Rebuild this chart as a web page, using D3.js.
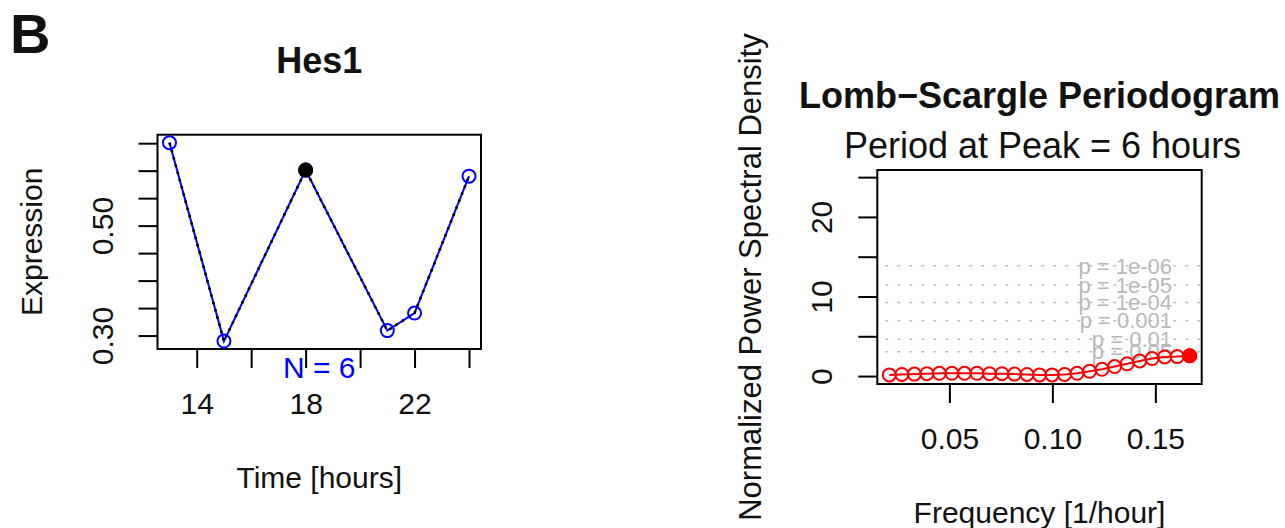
<!DOCTYPE html>
<html>
<head>
<meta charset="utf-8">
<script src="https://cdn.jsdelivr.net/npm/d3@7"></script>
<style>
  body { margin: 0; background: #fff; }
  svg text { font-family: "Liberation Sans", Arial, Helvetica, sans-serif; }
</style>
</head>
<body>
<svg id="chart" width="1285" height="528"></svg>
<script>
// left panel - Hes1 time course
const timeHours = [13, 15, 18, 21, 22, 24];
const expression = [0.651, 0.290, 0.601, 0.309, 0.341, 0.590];
const peakTime = 18;
const timeTicks = [14, 16, 18, 20, 22, 24];
const timeTickLabels = ['14', '', '18', '', '22', ''];
const exprTicks = [0.30, 0.35, 0.40, 0.45, 0.50, 0.55, 0.60, 0.65];
const exprTickLabels = ['0.30', '', '', '', '0.50', '', '', ''];

// right panel - Lomb-Scargle periodogram
const frequency = [0.02083, 0.02691, 0.03299, 0.03906, 0.04514, 0.05122, 0.05729, 0.06337,
  0.06944, 0.07552, 0.08160, 0.08767, 0.09375, 0.09983, 0.10590, 0.11198, 0.11806,
  0.12413, 0.13021, 0.13628, 0.14236, 0.14844, 0.15451, 0.16059, 0.16667];
const power = [0.15, 0.2, 0.25, 0.3, 0.35, 0.35, 0.35, 0.35, 0.3, 0.3, 0.25, 0.2, 0.15,
  0.15, 0.2, 0.35, 0.6, 0.85, 1.2, 1.55, 1.9, 2.2, 2.4, 2.45, 2.56];
const powerMax = 24.9;
const freqTicks = [0.05, 0.10, 0.15];
const freqTickLabels = ['0.05', '0.10', '0.15'];
const powerTicks = [0, 5, 10, 15, 20, 25];
const powerTickLabels = ['0', '', '10', '', '20', ''];
const sigLevels = [13.85, 11.46, 9.23, 6.96, 4.62, 3.06];
const sigLabels = ['p = 1e-06', 'p = 1e-05', 'p = 1e-04', 'p = 0.001', 'p = 0.01', 'p = 0.05'];

// R style axis padding (4% each side)
const pad = ([a, b]) => [a - 0.04 * (b - a), b + 0.04 * (b - a)];

const svg = d3.select('#chart');

function drawFrame(x, y, o) {
  const [x0, x1] = x.range();
  const [y0, y1] = y.range();   // y0 bottom, y1 top

  svg.append('rect')
    .attr('x', x0).attr('y', y1)
    .attr('width', x1 - x0).attr('height', y0 - y1)
    .attr('fill', 'none').attr('stroke', '#000').attr('stroke-width', 2);

  const xAxis = d3.axisBottom(x)
    .tickValues(o.xTicks)
    .tickFormat((d, i) => o.xLabels[i])
    .tickSize(19).tickSizeOuter(0).tickPadding(25);
  const xg = svg.append('g')
    .attr('transform', `translate(0,${y0})`)
    .call(xAxis);
  xg.select('.domain').remove();
  xg.selectAll('line').attr('stroke-width', 2);
  xg.selectAll('text').attr('font-size', 30).attr('fill', '#111');

  const yAxis = d3.axisLeft(y)
    .tickValues(o.yTicks)
    .tickFormat((d, i) => o.yLabels[i])
    .tickSize(19).tickSizeOuter(0);
  const yg = svg.append('g')
    .attr('transform', `translate(${x0},0)`)
    .call(yAxis);
  yg.select('.domain').remove();
  yg.selectAll('line').attr('stroke-width', 2);
  yg.selectAll('text')
    .attr('font-size', 30).attr('fill', '#111')
    .attr('transform', 'rotate(-90)')
    .attr('x', 0).attr('y', -45).attr('dy', 0)
    .attr('text-anchor', 'middle');

  // axis titles
  svg.append('text')
    .attr('x', (x0 + x1) / 2).attr('y', y0 + 139)
    .attr('text-anchor', 'middle').attr('font-size', 30).attr('fill', '#111')
    .text(o.xTitle);
  svg.append('text')
    .attr('transform', `translate(${x0 - 116},${(y0 + y1) / 2}) rotate(-90)`)
    .attr('text-anchor', 'middle').attr('font-size', o.yTitleSize || 30).attr('fill', '#111')
    .text(o.yTitle);

  svg.append('text')
    .attr('x', (x0 + x1) / 2).attr('y', y1 - 62)
    .attr('text-anchor', 'middle').attr('font-size', 36)
    .attr('font-weight', 'bold').attr('fill', '#111')
    .text(o.title);
}

// panel label
svg.append('text')
  .attr('x', 10).attr('y', 53)
  .attr('font-size', 56).attr('font-weight', 'bold').attr('fill', '#111')
  .text('B');

// ---- left panel ----
const xTime = d3.scaleLinear().domain(pad(d3.extent(timeHours))).range([157.5, 481]);
const yExpr = d3.scaleLinear().domain(pad(d3.extent(expression))).range([349, 134.7]);

drawFrame(xTime, yExpr, {
  xTicks: timeTicks, xLabels: timeTickLabels,
  yTicks: exprTicks, yLabels: exprTickLabels,
  xTitle: 'Time [hours]', yTitle: 'Expression', title: 'Hes1'
});

const exprData = timeHours.map((t, i) => ({ t: t, v: expression[i] }));
const exprLine = d3.line().x(d => xTime(d.t)).y(d => yExpr(d.v));

svg.append('path')
  .datum(exprData)
  .attr('d', exprLine)
  .attr('fill', 'none').attr('stroke', '#0000ff').attr('stroke-width', 2);
svg.append('path')
  .datum(exprData)
  .attr('d', exprLine)
  .attr('fill', 'none').attr('stroke', '#000').attr('stroke-width', 2.6)
  .attr('stroke-dasharray', '2.5,5');

svg.selectAll('.exprPt')
  .data(exprData)
  .join('circle')
  .attr('class', 'exprPt')
  .attr('cx', d => xTime(d.t)).attr('cy', d => yExpr(d.v))
  .attr('r', 6.5)
  .attr('fill', 'none').attr('stroke', '#0000ff').attr('stroke-width', 2);

svg.selectAll('.peakPt')
  .data(exprData.filter(d => d.t === peakTime))
  .join('circle')
  .attr('class', 'peakPt')
  .attr('cx', d => xTime(d.t)).attr('cy', d => yExpr(d.v))
  .attr('r', 7.5).attr('fill', '#000');

svg.append('text')
  .attr('x', d3.mean(xTime.range())).attr('y', 378)
  .attr('text-anchor', 'middle').attr('font-size', 30).attr('fill', '#0000ff')
  .text('N = ' + timeHours.length);

// ---- right panel ----
const xFreq = d3.scaleLinear().domain(pad(d3.extent(frequency))).range([877.3, 1201.7]);
const yPow = d3.scaleLinear().domain(pad([0, powerMax])).range([384, 170]);

drawFrame(xFreq, yPow, {
  xTicks: freqTicks, xLabels: freqTickLabels,
  yTicks: powerTicks, yLabels: powerTickLabels,
  xTitle: 'Frequency [1/hour]', yTitle: 'Normalized Power Spectral Density',
  yTitleSize: 31, title: 'Lomb\u2212Scargle Periodogram'
});

svg.append('text')
  .attr('x', d3.mean(xFreq.range()) + 3).attr('y', 158)
  .attr('text-anchor', 'middle').attr('font-size', 36).attr('fill', '#111')
  .text('Period at Peak = 6 hours');

// significance levels
svg.selectAll('.sigLine')
  .data(sigLevels)
  .join('line')
  .attr('class', 'sigLine')
  .attr('x1', xFreq.range()[0] + 8).attr('x2', xFreq.range()[1])
  .attr('y1', d => yPow(d)).attr('y2', d => yPow(d))
  .attr('stroke', '#bdbdbd').attr('stroke-width', 1.5)
  .attr('stroke-dasharray', '3,9');

svg.selectAll('.sigLabel')
  .data(sigLevels)
  .join('text')
  .attr('class', 'sigLabel')
  .attr('x', 1172).attr('y', d => yPow(d))
  .attr('dy', '0.35em')
  .attr('text-anchor', 'end').attr('font-size', 22).attr('fill', '#b8b8b8')
  .text((d, i) => sigLabels[i]);

const powData = frequency.map((f, i) => ({ f: f, p: power[i] }));

svg.append('path')
  .datum(powData)
  .attr('d', d3.line().x(d => xFreq(d.f)).y(d => yPow(d.p)))
  .attr('fill', 'none').attr('stroke', '#ff0000').attr('stroke-width', 2);

svg.selectAll('.powPt')
  .data(powData)
  .join('circle')
  .attr('class', 'powPt')
  .attr('cx', d => xFreq(d.f)).attr('cy', d => yPow(d.p))
  .attr('r', 6.5)
  .attr('fill', 'none').attr('stroke', '#ff0000').attr('stroke-width', 2);

const best = powData[d3.maxIndex(powData, d => d.p)];
svg.append('circle')
  .attr('cx', xFreq(best.f)).attr('cy', yPow(best.p))
  .attr('r', 7.5).attr('fill', '#ff0000');
</script>
</body>
</html>
